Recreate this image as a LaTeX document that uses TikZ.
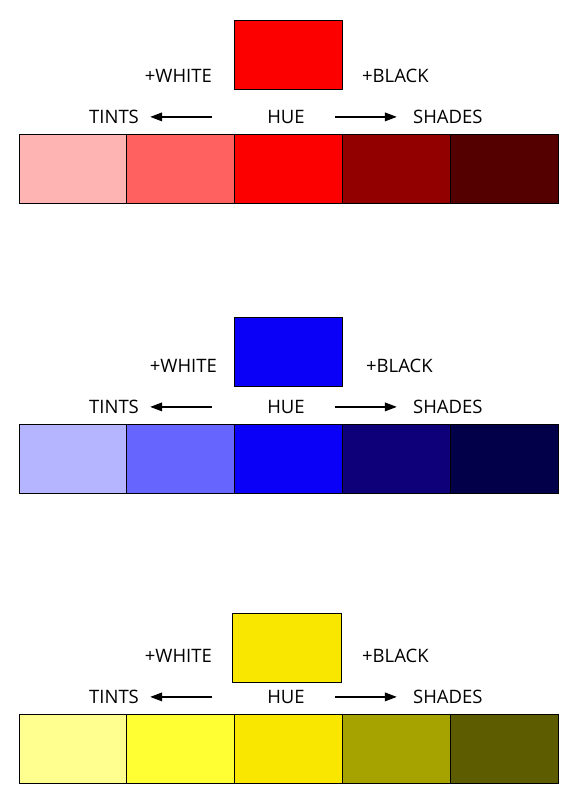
\documentclass[tikz,border=0pt]{standalone}
\usepackage{fontspec}
\setmainfont{Open Sans}
\usetikzlibrary{positioning,arrows.meta}

\definecolor{redTintA}{HTML}{FFB4B4}
\definecolor{redTintB}{HTML}{FF6060}
\definecolor{redHue}{HTML}{FC0000}
\definecolor{redShadeA}{HTML}{920000}
\definecolor{redShadeB}{HTML}{540000}
\definecolor{blueTintA}{HTML}{B4B4FF}
\definecolor{blueTintB}{HTML}{6666FF}
\definecolor{blueHue}{HTML}{0A00F8}
\definecolor{blueShadeA}{HTML}{0E0078}
\definecolor{blueShadeB}{HTML}{020048}
\definecolor{yelTintA}{HTML}{FFFF90}
\definecolor{yelTintB}{HTML}{FFFF33}
\definecolor{yelHue}{HTML}{F9E700}
\definecolor{yelShadeA}{HTML}{A6A300}
\definecolor{yelShadeB}{HTML}{5E5C00}

\begin{document}
\begin{tikzpicture}[x=1pt, y=-1pt, node distance=0pt,
    cell/.style={draw, line width=0.9pt, minimum width=107.8pt, minimum height=69pt, inner sep=0pt, outer sep=0pt},
    huebox/.style={cell, minimum width=108.5pt},
    lbl/.style={inner sep=0pt, text height=13.2pt, text depth=0pt, font=\fontsize{18.5}{20}\selectfont},
    arr/.style={-{Triangle[length=12pt,width=8.5pt]}, line width=1.8pt}]

\useasboundingbox (0,0) rectangle (575,805);

% Red
\node (r1) [cell, fill=redTintA, anchor=north west] at (19,134) {};
\node (r2) [cell, fill=redTintB, right=of r1] {};
\node (r3) [cell, fill=redHue, right=of r2] {};
\node (r4) [cell, fill=redShadeA, right=of r3] {};
\node (r5) [cell, fill=redShadeB, right=of r4] {};
\node (rHue) [huebox, fill=redHue, above=45pt of r3] {};
\node (rHueLbl) [lbl, above=10.3pt of r3, xshift=-2.5pt] {HUE};
\node (rTints) [lbl, left=128pt of rHueLbl] {TINTS};
\node (rShades) [lbl, right=108pt of rHueLbl] {SHADES};
\node (rWhite) [lbl, above left=27.5pt and 55pt of rHueLbl] {+WHITE};
\node (rBlack) [lbl, above right=27.5pt and 57pt of rHueLbl] {+BLACK};
\draw[arr] ([xshift=-55pt]rHueLbl.west) -- ([xshift=11pt]rTints.east);
\draw[arr] ([xshift=30pt]rHueLbl.east) -- ([xshift=-16pt]rShades.west);

% Blue
\node (b1) [cell, fill=blueTintA, anchor=north west] at (19,424) {};
\node (b2) [cell, fill=blueTintB, right=of b1] {};
\node (b3) [cell, fill=blueHue, right=of b2] {};
\node (b4) [cell, fill=blueShadeA, right=of b3] {};
\node (b5) [cell, fill=blueShadeB, right=of b4] {};
\node (bHue) [huebox, fill=blueHue, above=38pt of b3] {};
\node (bHueLbl) [lbl, above=10.3pt of b3, xshift=-2.5pt] {HUE};
\node (bTints) [lbl, left=128pt of bHueLbl] {TINTS};
\node (bShades) [lbl, right=108pt of bHueLbl] {SHADES};
\node (bWhite) [lbl, above left=27.5pt and 50pt of bHueLbl] {+WHITE};
\node (bBlack) [lbl, above right=27.5pt and 61pt of bHueLbl] {+BLACK};
\draw[arr] ([xshift=-55pt]bHueLbl.west) -- ([xshift=11pt]bTints.east);
\draw[arr] ([xshift=30pt]bHueLbl.east) -- ([xshift=-16pt]bShades.west);

% Yellow
\node (y1) [cell, fill=yelTintA, anchor=north west] at (19,714) {};
\node (y2) [cell, fill=yelTintB, right=of y1] {};
\node (y3) [cell, fill=yelHue, right=of y2] {};
\node (y4) [cell, fill=yelShadeA, right=of y3] {};
\node (y5) [cell, fill=yelShadeB, right=of y4] {};
\node (yHue) [huebox, fill=yelHue, above=32pt of y3, xshift=-1.5pt] {};
\node (yHueLbl) [lbl, above=10.3pt of y3, xshift=-2.5pt] {HUE};
\node (yTints) [lbl, left=128pt of yHueLbl] {TINTS};
\node (yShades) [lbl, right=108pt of yHueLbl] {SHADES};
\node (yWhite) [lbl, above left=27.5pt and 55pt of yHueLbl] {+WHITE};
\node (yBlack) [lbl, above right=27.5pt and 57pt of yHueLbl] {+BLACK};
\draw[arr] ([xshift=-55pt]yHueLbl.west) -- ([xshift=11pt]yTints.east);
\draw[arr] ([xshift=30pt]yHueLbl.east) -- ([xshift=-16pt]yShades.west);

\end{tikzpicture}
\end{document}
